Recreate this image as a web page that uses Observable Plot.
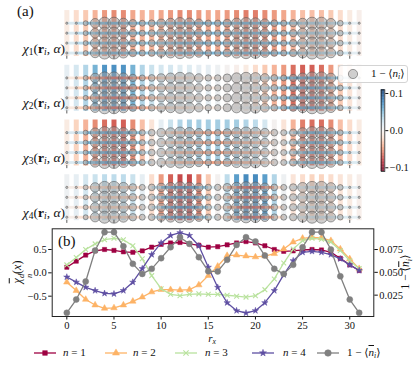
<!DOCTYPE html>
<html><head><meta charset="utf-8">
<script src="https://cdn.jsdelivr.net/npm/d3@7"></script>
<script src="https://cdn.jsdelivr.net/npm/@observablehq/plot@0.6"></script>
<style>
body{margin:0;background:#fff}
#root{position:relative;width:415px;height:368px;overflow:hidden;font-family:"Liberation Serif","DejaVu Serif",serif;color:#111}
#root svg text{font-family:"Liberation Serif","DejaVu Serif",serif !important}
.lbl{position:absolute;white-space:nowrap;line-height:1}
.lbl sub{font-size:70%;vertical-align:-0.3em;line-height:0}
.ov{text-decoration:overline}
</style></head><body><div id="root"></div>
<script>
// ---------------- data ----------------
const rx = [0,1,2,3,4,5,6,7,8,9,10,11,12,13,14,15,16,17,18,19,20,21,22,23,24,25,26,27,28,29,30,31];
const xTicks = [0,5,10,15,20,25,30];
const leftTicks = [-0.5,0,0.5];
const holeTicks = [0.025,0.05,0.075];
const cbTicks = [-0.1,0,0.1];

// 1 - <n_i> per column
const hole = [0.0056,0.0202,0.040,0.0739,0.094,0.094,0.0786,0.0593,0.0483,0.0538,0.0655,0.0775,0.0885,0.0812,0.0666,0.0512,0.051,0.0637,0.080,0.0885,0.0838,0.0684,0.0538,0.0483,0.0582,0.0775,0.094,0.094,0.075,0.0457,0.0202,0.0056];

// chi_n^d(x) line values
const n1 = [0.12,0.25,0.38,0.47,0.50,0.48,0.45,0.44,0.47,0.55,0.61,0.64,0.65,0.62,0.59,0.55,0.56,0.60,0.64,0.67,0.64,0.58,0.50,0.46,0.47,0.49,0.50,0.49,0.44,0.31,0.17,0.05];
const n2 = [-0.20,-0.38,-0.57,-0.69,-0.76,-0.75,-0.69,-0.61,-0.52,-0.41,-0.36,-0.36,-0.37,-0.36,-0.26,-0.06,0.14,0.37,0.38,0.36,0.34,0.36,0.41,0.51,0.66,0.74,0.76,0.75,0.69,0.51,0.30,0.09];
const n3 = [0.17,0.33,0.50,0.62,0.71,0.74,0.71,0.58,0.30,-0.06,-0.34,-0.46,-0.49,-0.46,-0.45,-0.46,-0.46,-0.48,-0.50,-0.52,-0.49,-0.36,-0.13,0.21,0.51,0.69,0.74,0.72,0.66,0.48,0.26,0.09];
const n4 = [-0.09,-0.20,-0.31,-0.38,-0.44,-0.45,-0.38,-0.20,0.09,0.39,0.64,0.80,0.86,0.80,0.58,0.12,-0.31,-0.64,-0.81,-0.86,-0.81,-0.64,-0.38,-0.04,0.26,0.44,0.46,0.44,0.39,0.30,0.17,0.05];

// chi_n(r_i, alpha): vertical (y) bonds per column
const chi1v = [-0.01,-0.02,-0.03,-0.04,-0.05,-0.055,-0.055,-0.045,-0.04,-0.04,-0.045,-0.05,-0.055,-0.055,-0.05,-0.045,-0.045,-0.05,-0.055,-0.06,-0.06,-0.055,-0.05,-0.045,-0.04,-0.035,-0.035,-0.035,-0.03,-0.02,-0.01,-0.005];
const chi2v = [0.01,0.02,0.035,0.055,0.07,0.072,0.07,0.055,0.035,0.025,0.02,0.02,0.015,0.015,0.01,0.01,0.005,0.0,-0.005,-0.01,-0.02,-0.03,-0.04,-0.05,-0.065,-0.07,-0.07,-0.065,-0.05,-0.03,-0.015,-0.005];
const chi3v = [-0.01,-0.025,-0.04,-0.055,-0.065,-0.07,-0.07,-0.055,-0.035,-0.015,0.01,0.025,0.035,0.04,0.04,0.04,0.04,0.04,0.04,0.035,0.03,0.02,0.0,-0.015,-0.04,-0.06,-0.065,-0.065,-0.055,-0.035,-0.02,-0.01];
const chi4v = [0.005,0.01,0.02,0.025,0.03,0.03,0.03,0.025,0.01,-0.02,-0.05,-0.07,-0.078,-0.078,-0.06,-0.03,0.0,0.03,0.065,0.075,0.075,0.065,0.035,0.005,-0.015,-0.02,-0.025,-0.025,-0.02,-0.015,-0.01,-0.005];
// horizontal (x) bonds between column i and i+1
const chi1h = [0.015,0.03,0.045,0.055,0.06,0.06,0.055,0.05,0.045,0.045,0.05,0.055,0.06,0.06,0.055,0.05,0.05,0.055,0.06,0.06,0.06,0.055,0.05,0.045,0.045,0.04,0.04,0.035,0.03,0.02,0.01];
const chi2h = [-0.01,-0.025,-0.045,-0.06,-0.07,-0.072,-0.065,-0.05,-0.04,-0.03,-0.025,-0.02,-0.02,-0.015,-0.01,-0.01,-0.005,0.0,0.005,0.01,0.02,0.03,0.04,0.055,0.065,0.07,0.068,0.06,0.045,0.025,0.01];
const chi3h = [0.015,0.03,0.05,0.06,0.07,0.07,0.06,0.045,0.025,0.0,-0.02,-0.035,-0.04,-0.045,-0.045,-0.045,-0.045,-0.045,-0.04,-0.04,-0.035,-0.02,0.0,0.02,0.045,0.06,0.065,0.06,0.045,0.03,0.015];
const chi4h = [-0.005,-0.015,-0.02,-0.025,-0.03,-0.03,-0.03,-0.02,0.0,0.03,0.06,0.072,0.078,0.07,0.045,0.015,-0.015,-0.045,-0.07,-0.075,-0.07,-0.05,-0.02,0.005,0.015,0.02,0.025,0.025,0.02,0.015,0.01];

const seriesLabels = ["<i>n</i> = 1","<i>n</i> = 2","<i>n</i> = 3","<i>n</i> = 4","1 − ⟨<span class='ov'><i>n</i></span><sub><i>i</i></sub>⟩"];

// ---------------- layout ----------------
const root = document.getElementById("root");
const FONT = '"Liberation Serif","DejaVu Serif",serif';
const xDomain = [-1.55, 32.55];
const colorOpts = {type:"linear", scheme:"RdBu", domain:[-0.11,0.11]};
const minus = s => s.replace("-", "−");

// panel (a)
const chiV = [chi1v, chi2v, chi3v, chi4v];
const chiH = [chi1h, chi2h, chi3h, chi4h];
const rows = [0,1,2,3];
const GAP = 5.5;
const bars = [], bonds = [], sites = [], ticksA = [];
chiV.forEach((arr,k) => arr.forEach((v,i) => bars.push({x: rx[i], y1: k*GAP-1.27, y2: k*GAP+3.35, v})));
chiH.forEach((arr,k) => rows.forEach(r => arr.forEach((v,i) => bonds.push({x1: rx[i], x2: rx[i+1], y: k*GAP+r, v}))));
chiV.forEach((_,k) => rows.forEach(r => rx.forEach((x,i) => sites.push({x, y: k*GAP+r, h: hole[i]}))));
chiV.forEach((_,k) => xTicks.forEach(x => ticksA.push({x, y1: k*GAP+3.3, y2: k*GAP+3.62})));

const plotA = Plot.plot({
  width: 415, height: 221,
  marginLeft: 51.7, marginRight: 41.7, marginTop: 0, marginBottom: 0,
  x: {domain: xDomain, axis: null},
  y: {domain: [0, 20], range: [22.7, 22.7 + 20*9.95], axis: null},
  color: colorOpts,
  r: {type: "linear", domain: [0.02, 0.094], range: [1.1, 6], clamp: true},
  style: {position:"absolute", left:"0px", top:"0px", background:"transparent", overflow:"visible", fontFamily: FONT},
  marks: [
    Plot.ruleX(bars, {x:"x", y1:"y1", y2:"y2", stroke:"v", strokeWidth:5, strokeOpacity:0.92}),
    Plot.link(bonds, {x1:"x1", x2:"x2", y1:"y", y2:"y", stroke:"v", strokeWidth:2.8}),
    Plot.dot(sites, {x:"x", y:"y", r:"h", fill:"#a0a0a0", fillOpacity:0.5, stroke:"#555", strokeOpacity:0.8, strokeWidth:0.7}),
    Plot.ruleX(ticksA, {x:"x", y1:"y1", y2:"y2", stroke:"#333", strokeWidth:0.8})
  ]
});
root.appendChild(plotA);

// colorbar
const cbStops = d3.range(-0.11, 0.11, 0.002).map(a => ({a, b: a+0.0021, v: a+0.001, x1: 0, x2: 1}));
const plotCb = Plot.plot({
  width: 45, height: 100,
  marginLeft: 10.7, marginRight: 30.7, marginTop: 9.3, marginBottom: 9,
  x: {domain:[0,1], axis:null},
  y: {domain:[-0.11,0.11], axis:"right", ticks: cbTicks, tickFormat: d => minus(d.toFixed(1)), tickSize:3, tickPadding:2, label:null},
  color: colorOpts,
  style: {position:"absolute", left:"370px", top:"80px", background:"transparent", overflow:"visible", fontFamily: FONT, fontSize:"10.5px"},
  marks: [
    Plot.rect(cbStops, {x1:"x1", x2:"x2", y1:"a", y2:"b", fill:"v"}),
    Plot.frame({stroke:"#222", strokeWidth:0.8})
  ]
});
root.appendChild(plotCb);

// panel (b)
const lo = [-0.935, 0.943], ro = [0.0016, 0.0977];
const toLeft = v => lo[0] + (v - ro[0]) * (lo[1]-lo[0])/(ro[1]-ro[0]);
const fromLeft = u => ro[0] + (u - lo[0]) * (ro[1]-ro[0])/(lo[1]-lo[0]);
const series = [
  {vals: n1, color:"#9e0142", symbol:"square", r:2.4},
  {vals: n2, color:"#fdb366", symbol:"triangle", r:2.4},
  {vals: n3, color:"#b9e29e", symbol:"times", r:2.3},
  {vals: n4, color:"#5e4fa2", symbol:"star", r:2.0},
  {vals: hole.map(toLeft), color:"#808080", symbol:"circle", r:3.0}
];
const lineMarks = [];
series.forEach(s => {
  const pts = rx.map((x,i) => ({x, y: s.vals[i]}));
  lineMarks.push(Plot.line(pts, {x:"x", y:"y", stroke:s.color, strokeWidth:1.3}));
  const stroked = s.symbol === "times";
  lineMarks.push(Plot.dot(pts, {x:"x", y:"y", symbol: s.symbol, r: s.r, fill: stroked ? "none" : s.color, stroke: s.color, strokeWidth: stroked ? 1.1 : 0.5}));
});
const plotB = Plot.plot({
  width: 415, height: 147,
  marginLeft: 51.7, marginRight: 41.7, marginTop: 7.3, marginBottom: 52,
  x: {domain: xDomain},
  y: {domain: lo},
  style: {position:"absolute", left:"0px", top:"221px", background:"transparent", overflow:"visible", fontFamily: FONT, fontSize:"10.5px"},
  marks: [
    Plot.axisX({ticks: xTicks, tickSize:3.5, tickPadding:2, label:null}),
    Plot.axisY({ticks: leftTicks, tickSize:3.5, tickPadding:2, label:null, tickFormat: d => minus(d.toFixed(1))}),
    Plot.axisY({anchor:"right", ticks: holeTicks.map(toLeft), tickSize:3.5, tickPadding:2, label:null, tickFormat: d => fromLeft(d).toFixed(3)}),
    ...lineMarks,
    Plot.frame({stroke:"#222", strokeWidth:1})
  ]
});
root.appendChild(plotB);

// ---------------- text overlays ----------------
function lbl(html, css) {
  const d = document.createElement("div");
  d.className = "lbl";
  d.innerHTML = html;
  Object.assign(d.style, css);
  root.appendChild(d);
  return d;
}
lbl("(a)", {left:"17px", top:"4px", fontSize:"15px"});
lbl("(b)", {left:"58px", top:"234px", fontSize:"15px"});
["1","2","3","4"].forEach((n,k) => {
  lbl(`<i>χ</i><sub>${n}</sub>(<b>r</b><sub><i>i</i></sub>, <i>α</i>)`, {right:(415-65)+"px", top:(48.6 + k*54.75)+"px", transform:"translateY(-55%)", fontSize:"13.5px"});
});
// legend box (a)
lbl(`<svg width="12" height="12" style="position:absolute;left:8px;top:2px"><circle cx="6" cy="6" r="4.6" fill="#a0a0a0" fill-opacity="0.5" stroke="#555" stroke-opacity="0.8" stroke-width="0.7"/></svg><span style="position:absolute;left:32px;top:2px">1 − ⟨<i>n</i><sub><i>i</i></sub>⟩</span>`,
  {left:"338px", top:"65px", width:"68px", height:"16px", border:"1px solid #d4d4d4", borderRadius:"3px", background:"rgba(255,255,255,0.85)", fontSize:"11px"});
// axis labels (b)
lbl(`<span class="ov"><i>χ</i></span><span style="display:inline-flex;flex-direction:column;font-size:70%;line-height:0.95;vertical-align:-0.3em"><i>d</i><i>n</i></span>(<i>x</i>)`,
  {left:"22px", top:"272px", transform:"translate(-50%,-50%) rotate(-90deg)", fontSize:"12px"});
lbl(`1 − ⟨<span class="ov"><i>n</i></span><sub><i>i</i></sub>⟩`,
  {left:"406px", top:"272px", transform:"translate(-50%,-50%) rotate(-90deg)", fontSize:"11.5px"});
lbl(`<i>r</i><sub><i>x</i></sub>`, {left:"212px", top:"338px", transform:"translate(-50%,-50%)", fontSize:"11px"});

// legend (b)
const legendPos = [[35,63],[106,133],[176,205],[253,283],[318,347]];
series.forEach((s,i) => {
  const [lx, tx] = legendPos[i];
  const symMap = {square:d3.symbolSquare, triangle:d3.symbolTriangle, times:d3.symbolTimes, star:d3.symbolStar, circle:d3.symbolCircle};
  const path = d3.symbol(symMap[s.symbol], Math.PI*s.r*s.r*1.2)();
  const stroked = s.symbol === "times";
  const svg = `<svg width="22" height="10" style="position:absolute;left:${lx-1}px;top:348px;overflow:visible"><line x1="0" x2="22" y1="5" y2="5" stroke="${s.color}" stroke-width="1.3"/><path transform="translate(11,5)" d="${path}" fill="${stroked?'none':s.color}" stroke="${s.color}" stroke-width="${stroked?1.1:0.5}"/></svg>`;
  const d = document.createElement("div");
  d.innerHTML = svg;
  root.appendChild(d.firstChild);
  lbl(seriesLabels[i], {left: tx+"px", top:"347px", fontSize:"11px"});
});
</script></body></html>
